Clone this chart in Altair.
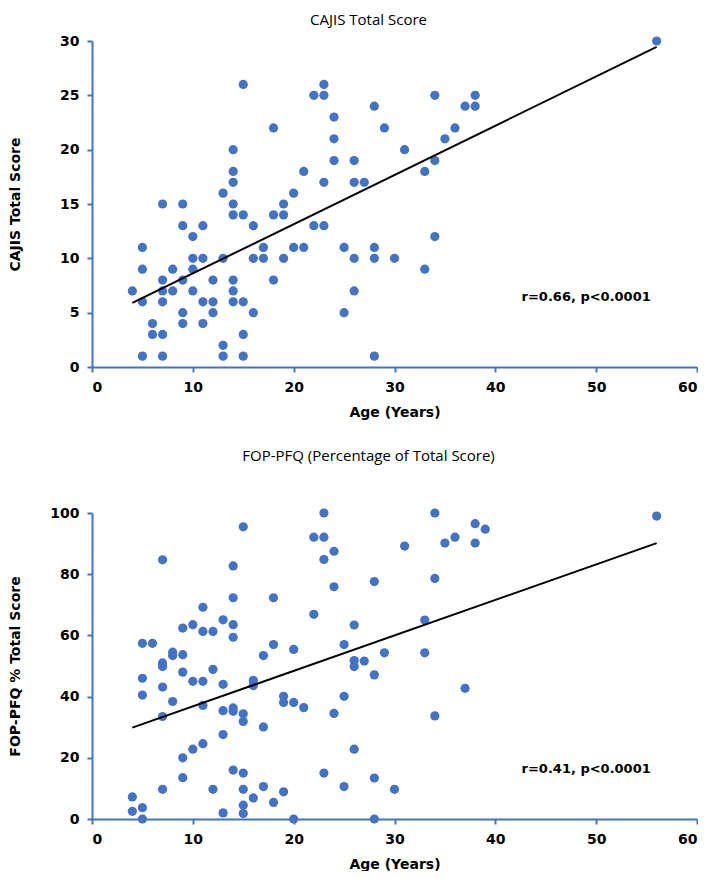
import altair as alt
import pandas as pd

# ---- Data ----
cajis_age = [4,5,5,5,5,6,6,7,7,7,7,7,7,8,8,9,9,9,9,9,10,10,10,10,11,11,11,11,12,12,12,
             13,13,13,13,14,14,14,14,14,14,14,14,15,15,15,15,15,16,16,16,17,17,18,18,18,
             19,19,19,20,20,21,21,22,22,23,23,23,23,24,24,24,25,25,26,26,26,26,27,28,28,
             28,28,29,30,31,33,33,34,34,34,35,36,37,38,38,56]
cajis_score = [7,11,9,6,1,4,3,15,8,7,6,3,1,9,7,15,13,8,5,4,12,10,9,7,13,10,6,4,8,6,5,
               16,10,2,1,20,18,17,15,14,8,7,6,26,14,6,3,1,13,10,5,11,10,22,14,8,
               15,14,10,16,11,18,11,25,13,26,25,17,13,23,21,19,11,5,19,17,10,7,17,24,11,
               10,1,22,10,20,18,9,25,19,12,21,22,24,25,24,30]

fop_age = [4,4,5,5,5,5,5,6,7,7,7,7,7,7,8,8,8,9,9,9,9,9,10,10,10,11,11,11,11,11,12,12,12,
           13,13,13,13,13,14,14,14,14,14,14,14,15,15,15,15,15,15,15,16,16,16,17,17,17,
           18,18,18,19,19,19,20,20,20,21,22,22,23,23,23,23,24,24,24,25,25,25,26,26,26,26,
           27,28,28,28,28,29,30,31,33,33,34,34,34,35,36,37,38,38,39,56]
fop_pct = [7.2,2.5, 57.4,46,40.5,3.7,0, 57.4, 84.7,51,49.8,43.1,33.5,9.7, 54.5,53.4,38.4,
           62.4,53.7,48,20,13.5, 63.5,45,22.8, 69.2,61.3,45,37.1,24.6, 61.3,48.9,9.7,
           65.1,44,35.4,27.6,2, 82.7,72.3,63.5,59.4,36.3,35.2,16,
           95.5,34.4,31.9,15,9.7,4.5,1.8, 45.3,43.6,6.9, 53.4,30.1,10.6,
           72.3,57,5.4, 40.1,38.1,8.9, 55.4,38.1,0, 36.4, 92.1,66.9, 100,92.1,84.8,15,
           87.5,75.9,34.5, 57,40.1,10.6, 63.4,51.8,49.8,22.8,
           51.6, 77.6,47.1,13.4,0, 54.3, 9.7, 89.2, 65,54.3, 100,78.6,33.7, 90.2, 92.1,
           42.7, 96.5,90.2, 94.7, 99]

x_ticks = [0, 10, 20, 30, 40, 50, 60]
cajis_ticks = [0, 5, 10, 15, 20, 25, 30]
fop_ticks = [0, 20, 40, 60, 80, 100]

annot_labels = ["r=0.66, p<0.0001", "r=0.41, p<0.0001"]
annot_x = [42.6, 42.6]
annot_y = [6.4, 16.2]

BLUE = "#4472C4"
FONT = "DejaVu Sans"
TFONT = "Open Sans"


def panel(age, vals, ymax, yticks, ytitle, title, title_offset, ann_i, height):
    df = pd.DataFrame({"age": age, "v": vals})
    ann = pd.DataFrame({"x": [annot_x[ann_i]], "y": [annot_y[ann_i]],
                        "label": [annot_labels[ann_i]]})
    xenc = alt.X("age:Q", scale=alt.Scale(domain=[0, 60], nice=False),
                 axis=alt.Axis(values=x_ticks, title="Age (Years)"))
    yenc = alt.Y("v:Q", scale=alt.Scale(domain=[0, ymax], nice=False),
                 axis=alt.Axis(values=yticks, title=ytitle, titleX=-70))
    base = alt.Chart(df)
    pts = base.mark_circle(size=85, color=BLUE, opacity=1).encode(x=xenc, y=yenc)
    line = base.transform_regression("age", "v").mark_line(
        color="black", strokeWidth=2).encode(x="age:Q", y="v:Q")
    txt = alt.Chart(ann).mark_text(align="left", baseline="middle", font=FONT,
                                   fontSize=13, fontWeight="bold", color="black").encode(
        x="x:Q", y="y:Q", text="label:N")
    return alt.layer(pts, line, txt).properties(
        width=605, height=height,
        title=alt.TitleParams(title, font=TFONT, fontSize=15, fontWeight="normal",
                              color="black", anchor="middle", dx=-26,
                              offset=title_offset))


top = panel(cajis_age, cajis_score, 30, cajis_ticks, "CAJIS Total Score",
            "CAJIS Total Score", 6, 0, 326)
bottom = panel(fop_age, fop_pct, 100, fop_ticks, "FOP-PFQ % Total Score",
               "FOP-PFQ (Percentage of Total Score)", 42, 1, 306)

chart = alt.vconcat(top, bottom, spacing=30).properties(
    padding={"left": 0, "top": 5, "right": 0, "bottom": 0}
).configure_view(stroke=None).configure_axis(
    grid=False, domainColor=BLUE, domainWidth=2, tickColor=BLUE, tickWidth=2,
    tickSize=5, labelFont=FONT, labelFontSize=14, labelFontWeight="bold",
    labelColor="black", titleFont=FONT, titleFontSize=14, titleFontWeight="bold",
    titleColor="black", labelPadding=8, titlePadding=11
)

chart.save("out.html", embed_options={"renderer": "svg", "actions": False})
